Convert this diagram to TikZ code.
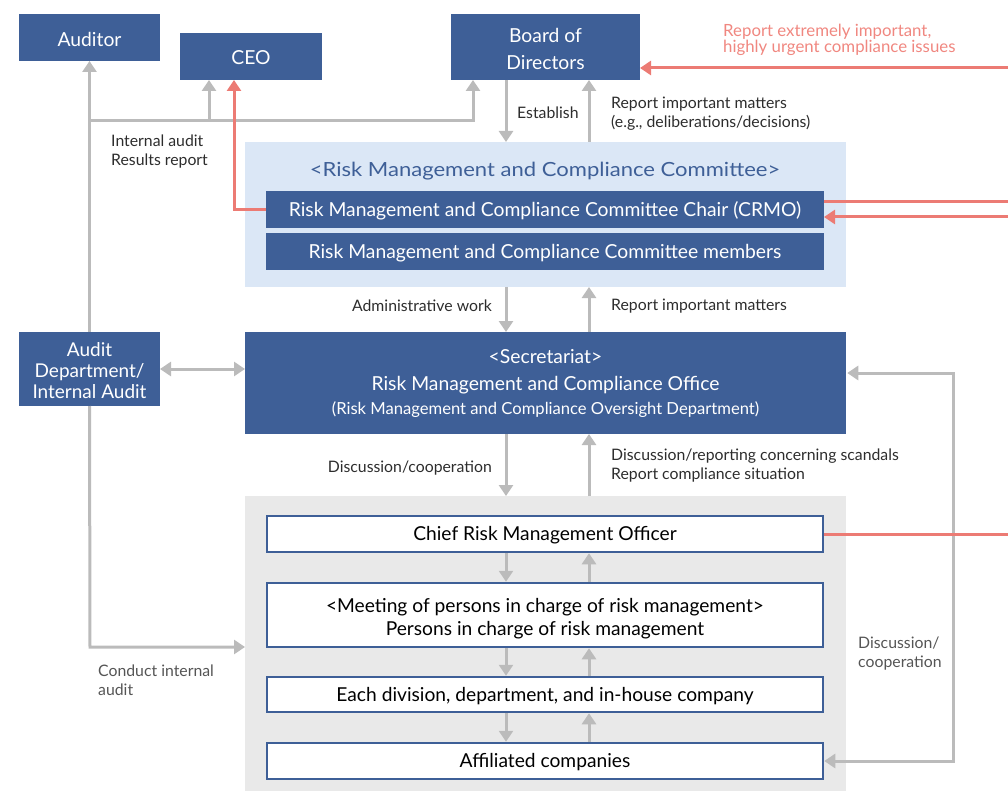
\documentclass[tikz,border=0pt]{standalone}
\usepackage{fontspec}
\setmainfont{Lato}
\usetikzlibrary{arrows.meta}
\definecolor{corpblue}{RGB}{62,95,151}
\definecolor{paleblue}{RGB}{219,231,246}
\definecolor{palegray}{RGB}{233,233,233}
\definecolor{linegray}{RGB}{187,187,187}
\definecolor{alertred}{RGB}{236,123,116}
\definecolor{alerttext}{RGB}{240,135,128}
\definecolor{labeltext}{RGB}{45,45,45}
\definecolor{softtext}{RGB}{85,85,85}

\tikzset{
  panel/.style={inner sep=0pt, outer sep=0pt, anchor=north west},
  bluebox/.style={panel, fill=corpblue, text=white, align=center,
    font=\fontsize{19.3}{27}\selectfont},
  whitebox/.style={panel, fill=white, draw=corpblue, line width=2.5pt,
    text=black, align=center, font=\fontsize{19.2}{23}\selectfont},
  oneline/.style={text height=#1, text depth=0pt},
  smalllabel/.style={inner sep=0pt, text=labeltext, align=left,
    font=\fontsize{15.8}{19}\selectfont},
  gline/.style={draw=linegray, line width=3pt},
  garrow/.style={gline, -{Triangle[width=14pt,length=11pt]}},
  gdouble/.style={gline, {Triangle[width=14pt,length=11pt]}-{Triangle[width=14pt,length=11pt]}},
  rline/.style={draw=alertred, line width=3pt},
  rarrow/.style={rline, -{Triangle[width=14pt,length=11pt]}},
}
% invisible strut that lowers a multi-line block
\newcommand{\dropby}[1]{\rule{0pt}{#1}}

\begin{document}
\begin{tikzpicture}[x=1pt, y=-1pt, line join=miter]
\useasboundingbox (0,0) rectangle (1008,791);

% background panels
\node[panel, fill=paleblue, minimum width=601pt, minimum height=145pt] (cmte) at (245,142) {};
\node[panel, fill=palegray, minimum width=601pt, minimum height=295pt] (field) at (245,496) {};

% top row
\node[bluebox, oneline=17.5pt, minimum width=141pt, minimum height=47pt] (aud) at (19,14) {Auditor};
\node[bluebox, oneline=16pt, minimum width=142pt, minimum height=47pt] (ceo) at (180,33) {CEO};
\node[bluebox, minimum width=189pt, minimum height=66pt] (board) at (451,14) {\dropby{18.5pt}Board of\\Directors};

% committee
\node[text=corpblue, font=\fontsize{19.5}{23}\selectfont] (cmtetitle) at (545,171)
  {\scalebox{1.13}[1]{<Risk Management and Compliance Committee>}};
\node[bluebox, oneline=14.8pt, minimum width=558pt, minimum height=37pt] (chair) at (266,191)
  {Risk Management and Compliance Committee Chair (CRMO)};
\node[bluebox, oneline=14.8pt, minimum width=558pt, minimum height=37pt] (members) at (266,233)
  {Risk Management and Compliance Committee members};

% secretariat and audit department
\node[bluebox, minimum width=601pt, minimum height=102pt] (sec) at (245,332)
  {<Secretariat>\\Risk Management and Compliance Office\\[-3pt]
   {\fontsize{16.6}{17}\selectfont (Risk Management and Compliance Oversight Department)}};
\node[bluebox, minimum width=141pt, minimum height=74pt, font=\fontsize{19}{21}\selectfont] (adept) at (19,332)
  {\dropby{16.5pt}Audit\\Department/\\Internal Audit};

% field organisation
\node[whitebox, oneline=13.8pt, minimum width=556pt, minimum height=36pt] (cro) at (267,516) {Chief Risk Management Officer};
\node[whitebox, minimum width=556pt, minimum height=64pt] (meet) at (267,583)
  {\dropby{20.5pt}<Meeting of persons in charge of risk management>\\Persons in charge of risk management};
\node[whitebox, oneline=13.8pt, minimum width=556pt, minimum height=35pt] (div) at (267,677) {Each division, department, and in-house company};
\node[whitebox, oneline=13.8pt, minimum width=556pt, minimum height=36pt] (aff) at (267,743) {Affiliated companies};

% helper coordinates
\coordinate (colL) at (506,0);
\coordinate (colR) at (589,0);
\coordinate (busL) at (90,121);
\coordinate (busR) at (473,121);
\coordinate (ceoTap) at (209,121);
\coordinate (redTap) at (234,0);
\coordinate (edgeB) at (1008,68);
\coordinate (edgeC1) at (1008,202);
\coordinate (edgeC2) at (1008,217);
\coordinate (auditLow) at (90,647);
\coordinate (loopTop) at (953,373);

% audit reporting lines
\draw[garrow] (adept.north) -- (aud.south);
\draw[garrow] (busL) -- (busR) -- (busR |- board.south);
\draw[garrow] (ceoTap) -- (ceoTap |- ceo.south);
\draw[garrow] (adept.south) -- (auditLow) -- (auditLow -| field.west);
\draw[gdouble] (adept.east) -- (adept.east -| sec.west);

% vertical flows
\draw[garrow] (colL |- board.south) -- (colL |- cmte.north);
\draw[garrow] (colR |- cmte.north) -- (colR |- board.south);
\draw[garrow] (colL |- cmte.south) -- (colL |- sec.north);
\draw[garrow] (colR |- sec.north) -- (colR |- cmte.south);
\draw[garrow] (colL |- sec.south) -- (colL |- field.north);
\draw[garrow] (colR |- field.north) -- (colR |- sec.south);
\draw[garrow] ([yshift=-1.25pt]colL |- cro.south) -- ([yshift=1.25pt]colL |- meet.north);
\draw[garrow] ([yshift=1.25pt]colR |- meet.north) -- ([yshift=-1.25pt]colR |- cro.south);
\draw[garrow] ([yshift=-1.25pt]colL |- meet.south) -- ([yshift=1.25pt]colL |- div.north);
\draw[garrow] ([yshift=1.25pt]colR |- div.north) -- ([yshift=-1.25pt]colR |- meet.south);
\draw[garrow] ([yshift=-1.25pt]colL |- div.south) -- ([yshift=1.25pt]colL |- aff.north);
\draw[garrow] ([yshift=1.25pt]colR |- aff.north) -- ([yshift=-1.25pt]colR |- div.south);

% discussion loop
\draw[gdouble] ([xshift=1.25pt]loopTop -| sec.east) -- (loopTop) -- (loopTop |- aff.east) -- ([xshift=1.25pt]aff.east);

% compliance escalation lines
\draw[rarrow] (chair.west) -- (chair.west -| redTap) -- (redTap |- ceo.south);
\draw[rarrow] (edgeB) -- (edgeB -| board.east);
\draw[rline] (edgeC1 -| chair.east) -- (edgeC1);
\draw[rarrow] (edgeC2) -- (edgeC2 -| chair.east);
\draw[rline] ([xshift=1.25pt]cro.east) -- (cro.east -| edgeC1);

% labels
\node[smalllabel, anchor=west] (lblaudit) at (111,152) {Internal audit\\Results report};
\node[smalllabel, anchor=west] (lblest) at (517,113) {Establish};
\node[smalllabel, anchor=west] (lblrep1) at (611,114) {Report important matters\\(e.g., deliberations/decisions)};
\node[smalllabel, anchor=east] (lbladmin) at (492,306) {Administrative work};
\node[smalllabel, anchor=west] (lblrep2) at (611,306) {Report important matters};
\node[smalllabel, anchor=east] (lbldisc) at (492,468) {Discussion/cooperation};
\node[smalllabel, anchor=west] (lblscan) at (611,466) {Discussion/reporting concerning scandals\\Report compliance situation};
\node[smalllabel, text=softtext, anchor=west] (lblconduct) at (98,680) {Conduct internal\\audit};
\node[smalllabel, text=softtext, anchor=west] (lblloop) at (858,654) {Discussion/\\cooperation};
\node[smalllabel, text=alerttext, anchor=west, font=\fontsize{16.8}{14.5}\selectfont] (lblalert) at (723,40)
  {Report extremely important,\\highly urgent compliance issues};
\end{tikzpicture}
\end{document}
